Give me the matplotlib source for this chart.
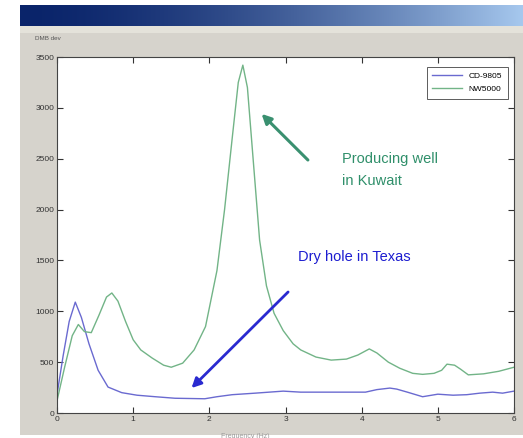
import numpy as np
import matplotlib
matplotlib.use("Agg")
import matplotlib.pyplot as plt
from matplotlib.patches import Rectangle

plt.rcParams['font.family'] = ['Liberation Sans', 'DejaVu Sans']

# ---- data ----
blue_x = [0, 0.08, 0.16, 0.24, 0.32, 0.42, 0.54, 0.67, 0.85, 1.05, 1.29, 1.55, 1.94, 2.1, 2.3, 2.6, 2.97, 3.2, 3.5, 3.8, 4.05, 4.2, 4.37, 4.46, 4.6, 4.8, 5.0, 5.2, 5.38, 5.55, 5.72, 5.85, 6.0]
blue_y = [180, 560, 900, 1090, 940, 680, 420, 255, 200, 175, 160, 145, 140, 160, 180, 195, 215, 205, 205, 205, 205, 230, 245, 235, 205, 160, 185, 175, 180, 195, 205, 195, 215]

green_x = [0, 0.1, 0.2, 0.28, 0.36, 0.45, 0.55, 0.65, 0.72, 0.8, 0.9, 1.0, 1.1, 1.25, 1.4, 1.5, 1.65, 1.8, 1.95, 2.1, 2.2, 2.3, 2.38, 2.44, 2.5, 2.58, 2.66, 2.75, 2.85, 2.97, 3.1, 3.2, 3.4, 3.6, 3.8, 3.95, 4.1, 4.2, 4.35, 4.5, 4.67, 4.8, 4.95, 5.05, 5.12, 5.22, 5.3, 5.4, 5.6, 5.8, 6.0]
green_y = [120, 450, 760, 870, 800, 790, 960, 1140, 1180, 1100, 900, 720, 620, 540, 470, 450, 490, 620, 850, 1400, 2000, 2700, 3250, 3420, 3200, 2450, 1700, 1250, 980, 810, 680, 620, 550, 520, 530, 570, 630, 590, 500, 440, 390, 380, 390, 420, 480, 470, 430, 375, 385, 410, 450]

legend_labels = ['CD-9805', 'NW5000']
x_ticks = [0, 1, 2, 3, 4, 5, 6]
y_ticks = [0, 500, 1000, 1500, 2000, 2500, 3000, 3500]

W, H = 523, 438
fig = plt.figure(figsize=(W / 100, H / 100), dpi=100)
fig.patch.set_facecolor('white')

# window background
fig.patches.append(Rectangle((20 / W, 1 - 435 / H), (W - 20) / W, (435 - 26) / H,
                             transform=fig.transFigure, facecolor='#d6d3cc',
                             edgecolor='none', zorder=-10))
fig.patches.append(Rectangle((20 / W, 1 - 33 / H), (W - 20) / W, 7 / H,
                             transform=fig.transFigure, facecolor='#e4e2da',
                             edgecolor='none', zorder=-10))

# title bar gradient
tb = fig.add_axes([20 / W, 1 - 26 / H, (W - 20) / W, 21 / H])
grad = np.linspace(0, 1, 256)
c0 = np.array([0x0a, 0x24, 0x6a]) / 255
c1 = np.array([0xa6, 0xc8, 0xee]) / 255
g = (c0[None, :] * (1 - grad[:, None] ** 1.6) + c1[None, :] * grad[:, None] ** 1.6)
tb.imshow(g[None, :, :], aspect='auto', extent=[0, 1, 0, 1])
tb.set_axis_off()

ax = fig.add_axes([57 / W, 1 - 413 / H, (514 - 57) / W, (413 - 57) / H])
ax.set_facecolor('white')
ax.plot(blue_x, blue_y, color='#6a6ad0', lw=1.0, label=legend_labels[0])
ax.plot(green_x, green_y, color='#72b487', lw=1.0, label=legend_labels[1])
ax.set_xlim(0, 6)
ax.set_ylim(0, 3500)
ax.set_xticks(x_ticks)
ax.set_yticks(y_ticks)
ax.tick_params(direction='in', top=True, right=True, labelsize=6, length=4,
               colors='#333333', pad=2)
for s in ax.spines.values():
    s.set_color('#444444')
    s.set_linewidth(0.8)

leg = ax.legend(loc='upper right', fontsize=6, frameon=True, fancybox=False,
                edgecolor='#333333', handlelength=3.5, borderpad=0.7,
                labelspacing=0.6, bbox_to_anchor=(0.995, 0.985))
leg.get_frame().set_linewidth(0.7)

# annotations
ax.annotate('', xy=(2.66, 2960), xytext=(3.32, 2468),
            arrowprops=dict(arrowstyle='-|>', color='#3a9070', lw=2.2,
                            mutation_scale=14))
ax.text(3.74, 2570, 'Producing well\nin Kuwait', color='#2f8f6a', fontsize=10.5,
        ha='left', va='top', linespacing=1.75)

ax.annotate('', xy=(1.74, 226), xytext=(3.06, 1209),
            arrowprops=dict(arrowstyle='-|>', color='#2a2ad0', lw=2.0,
                            mutation_scale=14))
ax.text(3.16, 1600, 'Dry hole in Texas', color='#1c1cd0', fontsize=10.5,
        ha='left', va='top')

fig.text(35 / W, 1 - 38 / H, 'DMB dev', fontsize=4.5, color='#555555',
         ha='left', va='center')
fig.text(245 / W, 1 - 436 / H, 'Frequency (Hz)', fontsize=5, color='#999999',
         ha='center', va='center')

fig.savefig('out.png', dpi=100)
